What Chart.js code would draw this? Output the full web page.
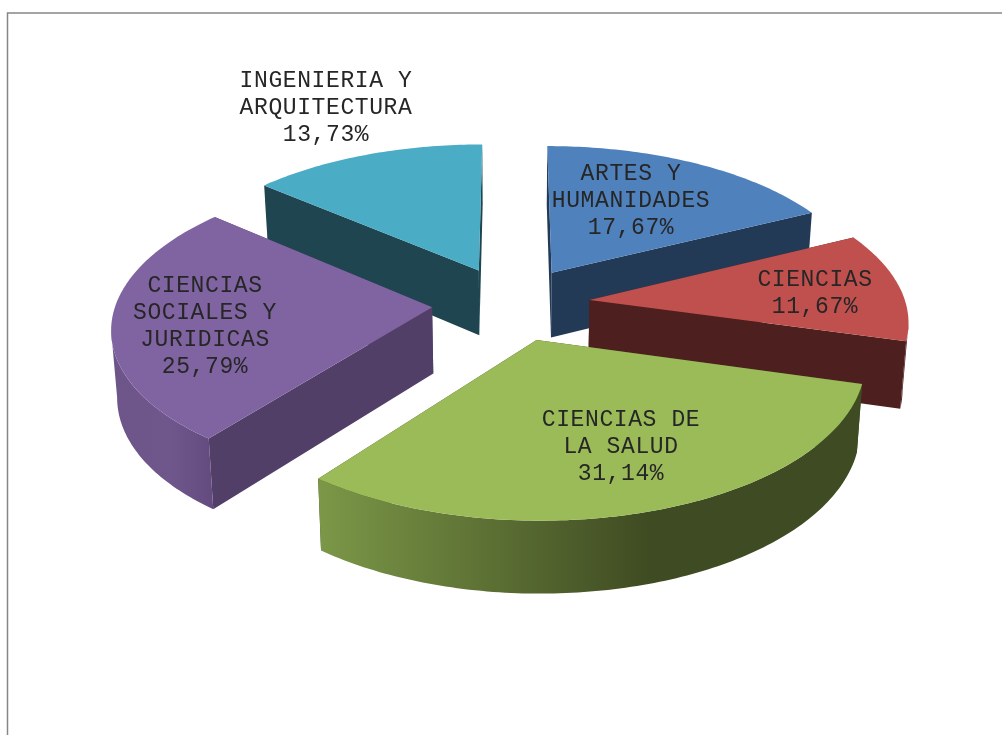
<!DOCTYPE html>
<html>
<head>
<meta charset="utf-8">
<title>Ramas de conocimiento</title>
<script src="https://cdn.jsdelivr.net/npm/chart.js@4/dist/chart.umd.min.js"></script>
<style>
  html, body { margin: 0; padding: 0; background: #fff; }
  canvas { display: block; }
</style>
</head>
<body>
<canvas id="pieChart" width="1002" height="735"></canvas>
<script>
const categories = [
  ["ARTES Y", "HUMANIDADES"],
  ["CIENCIAS"],
  ["CIENCIAS DE", "LA SALUD"],
  ["CIENCIAS", "SOCIALES Y", "JURIDICAS"],
  ["INGENIERIA Y", "ARQUITECTURA"],
];
const percentages = [17.67, 11.67, 31.14, 25.79, 13.73];
const percentLabels = ["17,67%", "11,67%", "31,14%", "25,79%", "13,73%"];

const topColors = ["#4f81bd", "#c0504d", "#9bbb59", "#8064a2", "#4bacc6"];
const wallColors = ["#233a56", "#4d1f1f", "#3f4b22", "#523f68", "#1f4550"];
// Horizontal shading of the curved outer wall, only where it is visible.
const wallShades = {
  2: [[320, "#7b9747"], [650, "#3f4b22"]],
  3: [[112, "#6d5589"], [170, "#70578b"], [212, "#634b80"]],
};
// Middle of each text block, in page pixels.
const labelCenters = [[631, 201], [815, 293], [621, 447], [205, 326], [326, 108]];

// Tilted view of the pie plane, all relative to the chart's own radius.
const EXPLODE = 0.25;
const SCALE_X = 1.042;
const SCALE_Y = 0.491;
const DEPTH = 0.122;

function project(arc, theta, r) {
  const mid = (arc.startAngle + arc.endAngle) / 2 + Math.PI / 2;
  const u = r * Math.sin(theta) + EXPLODE * Math.sin(mid);
  const v = r * Math.cos(theta) + EXPLODE * Math.cos(mid);
  const w = 1 + DEPTH * v;
  const R = arc.outerRadius;
  return {
    x: arc.x + (SCALE_X * R * u) / w,
    y: arc.y - (SCALE_Y * R * v) / w,
    w,
    theta,
  };
}

// The same point on the underside of the slice.
function lower(arc, p) {
  return {
    x: arc.x + (p.x - arc.x) * 0.985,
    y: p.y + 66 + 46 * (1 - p.w),
  };
}

function fillPath(ctx, points, fill) {
  ctx.beginPath();
  points.forEach((p, i) => (i ? ctx.lineTo(p.x, p.y) : ctx.moveTo(p.x, p.y)));
  ctx.closePath();
  ctx.fillStyle = fill;
  ctx.fill();
}

function rimPoints(arc, from, to) {
  const pts = [];
  const steps = Math.max(2, Math.ceil((to - from) * 60));
  for (let i = 0; i <= steps; i++) {
    pts.push(project(arc, from + ((to - from) * i) / steps, 1));
  }
  return pts;
}

// The stretch of rim turned towards the viewer: from the pie's rightmost
// point on screen, clockwise round the front, to its leftmost point.
function frontOfRim(rim) {
  let right = 0;
  let left = rim.length - 1;
  rim.forEach((p, i) => {
    if (p.theta < Math.PI && p.x > rim[right].x) right = i;
  });
  for (let i = rim.length - 1; i >= 0; i--) {
    if (rim[i].theta > Math.PI && rim[i].x < rim[left].x) left = i;
  }
  return rim.slice(right, left + 1);
}

function drawSlice(ctx, arc, index) {
  const start = arc.startAngle + Math.PI / 2;
  const end = arc.endAngle + Math.PI / 2;
  const apex = project(arc, 0, 0);
  const rim = rimPoints(arc, start, end);

  // Straight walls
  [rim[0], rim[rim.length - 1]].forEach((p) => {
    fillPath(ctx, [apex, p, lower(arc, p), lower(arc, apex)], wallColors[index]);
  });

  // Curved wall
  const front = frontOfRim(rim);
  if (front.length > 1 && front[0].theta > Math.PI / 2 - 0.5 && front[0].theta < 1.5 * Math.PI) {
    let fill = wallColors[index];
    if (wallShades[index]) {
      const stops = wallShades[index];
      const x0 = stops[0][0];
      const x1 = stops[stops.length - 1][0];
      fill = ctx.createLinearGradient(x0, 0, x1, 0);
      stops.forEach((s) => fill.addColorStop((s[0] - x0) / (x1 - x0), s[1]));
    }
    fillPath(ctx, front.concat(front.map((p) => lower(arc, p)).reverse()), fill);
  }

  // Top face
  fillPath(ctx, [apex].concat(rim), arc.options.backgroundColor);
}

const pie3d = {
  id: "pie3d",
  beforeDraw(chart) {
    const ctx = chart.ctx;
    ctx.save();
    ctx.strokeStyle = "#868686";
    ctx.lineWidth = 1.5;
    ctx.beginPath();
    ctx.moveTo(7.5, 735);
    ctx.lineTo(7.5, 13);
    ctx.lineTo(1002, 13);
    ctx.stroke();
    ctx.restore();
  },
  // Replaces the flat arcs with the tilted slices, back ones first.
  beforeDatasetDraw(chart, args) {
    const ctx = chart.ctx;
    const arcs = args.meta.data;
    const order = arcs.map((arc, i) => i).sort((a, b) => project(arcs[a], 0, 0).y - project(arcs[b], 0, 0).y);
    ctx.save();
    order.forEach((i) => drawSlice(ctx, arcs[i], i));
    ctx.restore();
    return false;
  },
  afterDatasetsDraw(chart) {
    const ctx = chart.ctx;
    ctx.save();
    ctx.font = "23px 'Liberation Mono'";
    ctx.letterSpacing = "0.6px";
    ctx.fillStyle = "#262626";
    ctx.textAlign = "center";
    ctx.textBaseline = "middle";
    categories.forEach((lines, i) => {
      const all = lines.concat(percentLabels[i]);
      const top = labelCenters[i][1] - ((all.length - 1) * 27) / 2;
      all.forEach((line, j) => ctx.fillText(line, labelCenters[i][0], top + j * 27));
    });
    ctx.restore();
  },
};

new Chart(document.getElementById("pieChart").getContext("2d"), {
  type: "pie",
  data: {
    labels: categories.map((c) => c.join(" ")),
    datasets: [
      {
        data: percentages,
        backgroundColor: topColors,
        borderWidth: 0,
      },
    ],
  },
  options: {
    responsive: false,
    animation: false,
    events: [],
    layout: { padding: { left: 20, bottom: 128 } },
    plugins: {
      legend: { display: false },
      tooltip: { enabled: false },
    },
  },
  plugins: [pie3d],
});
</script>
</body>
</html>
